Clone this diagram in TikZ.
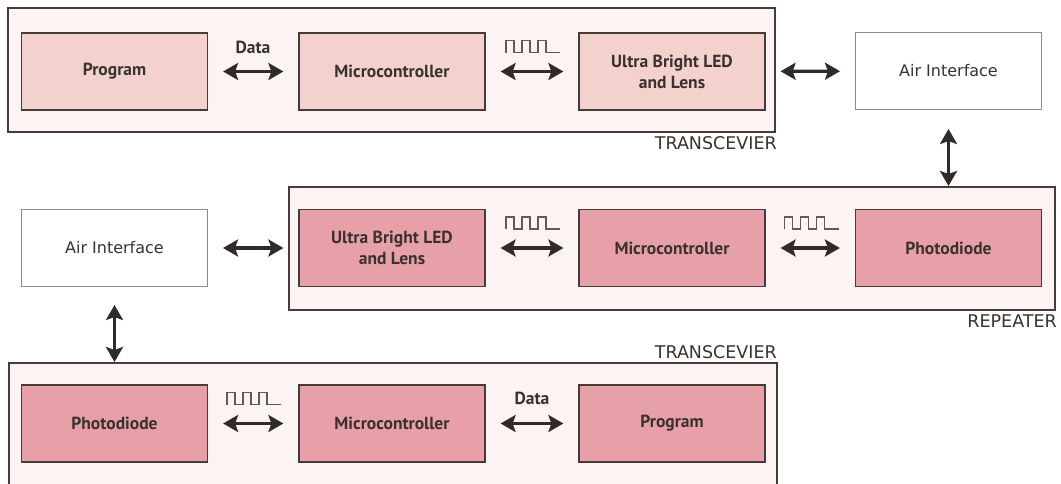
\documentclass[tikz,border=0pt]{standalone}
\usepackage{fontspec}
\setmainfont{DejaVu Sans}
\newfontfamily\boxfont{PT Sans}
\usetikzlibrary{arrows.meta}
\usetikzlibrary{positioning}
\definecolor{framefill}{HTML}{FBF4F2}
\definecolor{palepink}{HTML}{F3D2CD}
\definecolor{deeppink}{HTML}{E8A0A8}
\definecolor{edge}{HTML}{4A3B3B}
\definecolor{arr}{HTML}{302A2A}
\definecolor{txt}{HTML}{3A3030}
\tikzset{sqwave/.pic={
  \draw[draw=edge!85,line width=1.4pt] (-26,0) -- ++(0,-12) -- ++(8,0) -- ++(0,12) -- ++(8,0) -- ++(0,-12) -- ++(8,0) -- ++(0,12)
    -- ++(8,0) -- ++(0,-12) -- ++(8,0) -- ++(0,12) -- ++(14,0);
}}

\begin{document}
\begin{tikzpicture}[x=1pt,y=-1pt,
  frame/.style={draw=edge,line width=2pt,fill=framefill,inner sep=0pt},
  blk/.style={draw=edge,line width=1.2pt,minimum width=186pt,minimum height=77pt,inner sep=0pt,align=center,
    font=\boxfont\bfseries\fontsize{17.5}{21}\selectfont,text=txt},
  airbox/.style={draw=black!45,line width=1pt,fill=white,minimum width=186pt,minimum height=77pt,inner sep=0pt,
    font=\fontsize{16}{19}\selectfont,text=txt},
  tag/.style={anchor=east,inner sep=0pt,font=\fontsize{17.5}{20}\selectfont,text=txt},
  lbl/.style={inner sep=0pt,font=\boxfont\bfseries\fontsize{17.5}{20}\selectfont,text=txt},
  biarrow/.style={draw=arr,line width=3.2pt,{Stealth[length=15pt,width=17pt,inset=3pt]}-{Stealth[length=15pt,width=17pt,inset=3pt]},
    shorten <=15pt,shorten >=15pt}]
\useasboundingbox (0,0) rectangle (1061,483);

% containers
\node[frame,minimum width=767pt,minimum height=124pt] (tr1) at (391.5,70) {};
\node[frame,minimum width=766pt,minimum height=123pt] (rep) at (672,248.5) {};
\node[frame,minimum width=768pt,minimum height=124pt] (tr2) at (393,425) {};

% top row
\node[blk,fill=palepink] (p1) at (114.5,71.5) {Program};
\node[blk,fill=palepink] (m1) at (392,71.5) {Microcontroller};
\node[blk,fill=palepink] (l1) at (672,71.5) {Ultra Bright LED\\and Lens};
\node[airbox] (a1) at (948.5,71) {Air Interface};

% middle row
\node[airbox] (a2) at (114.5,248) {Air Interface};
\node[blk,fill=deeppink] (l2) at (392,248) {Ultra Bright LED\\and Lens};
\node[blk,fill=deeppink] (m2) at (672,248) {Microcontroller};
\node[blk,fill=deeppink] (d2) at (948.5,248) {Photodiode};

% bottom row
\node[blk,fill=deeppink] (d3) at (114.5,423.5) {Photodiode};
\node[blk,fill=deeppink] (m3) at (392,423.5) {Microcontroller};
\node[blk,fill=deeppink] (p3) at (672,423.5) {Program};

% labels
\node[tag] (t1) at (777,143) {TRANSCEVIER};
\node[tag] (t2) at (1057,321) {REPEATER};
\node[tag] (t3) at (777,352) {TRANSCEVIER};
\node[lbl] (dt1) at (253,47) {Data};
\node[lbl] (dt3) at (532,398) {Data};
\pic (w1) at (532,52.5) {sqwave};
\pic (w2) at (532,229) {sqwave};
\pic (w3) at (810.5,229) {sqwave};
\pic (w4) at (253,404.5) {sqwave};

% arrows
\draw[biarrow] (p1) -- (m1);
\draw[biarrow] (m1) -- (l1);
\draw[biarrow] (l1) -- (a1);
\draw[biarrow] (a2) -- (l2);
\draw[biarrow] (l2) -- (m2);
\draw[biarrow] (m2) -- (d2);
\draw[biarrow] (d3) -- (m3);
\draw[biarrow] (m3) -- (p3);
\draw[biarrow,shorten <=19pt,shorten >=0pt] (a1) -- (a1 |- rep.north);
\draw[biarrow,shorten <=18pt,shorten >=0pt] (a2) -- (a2 |- tr2.north);
\end{tikzpicture}
\end{document}
